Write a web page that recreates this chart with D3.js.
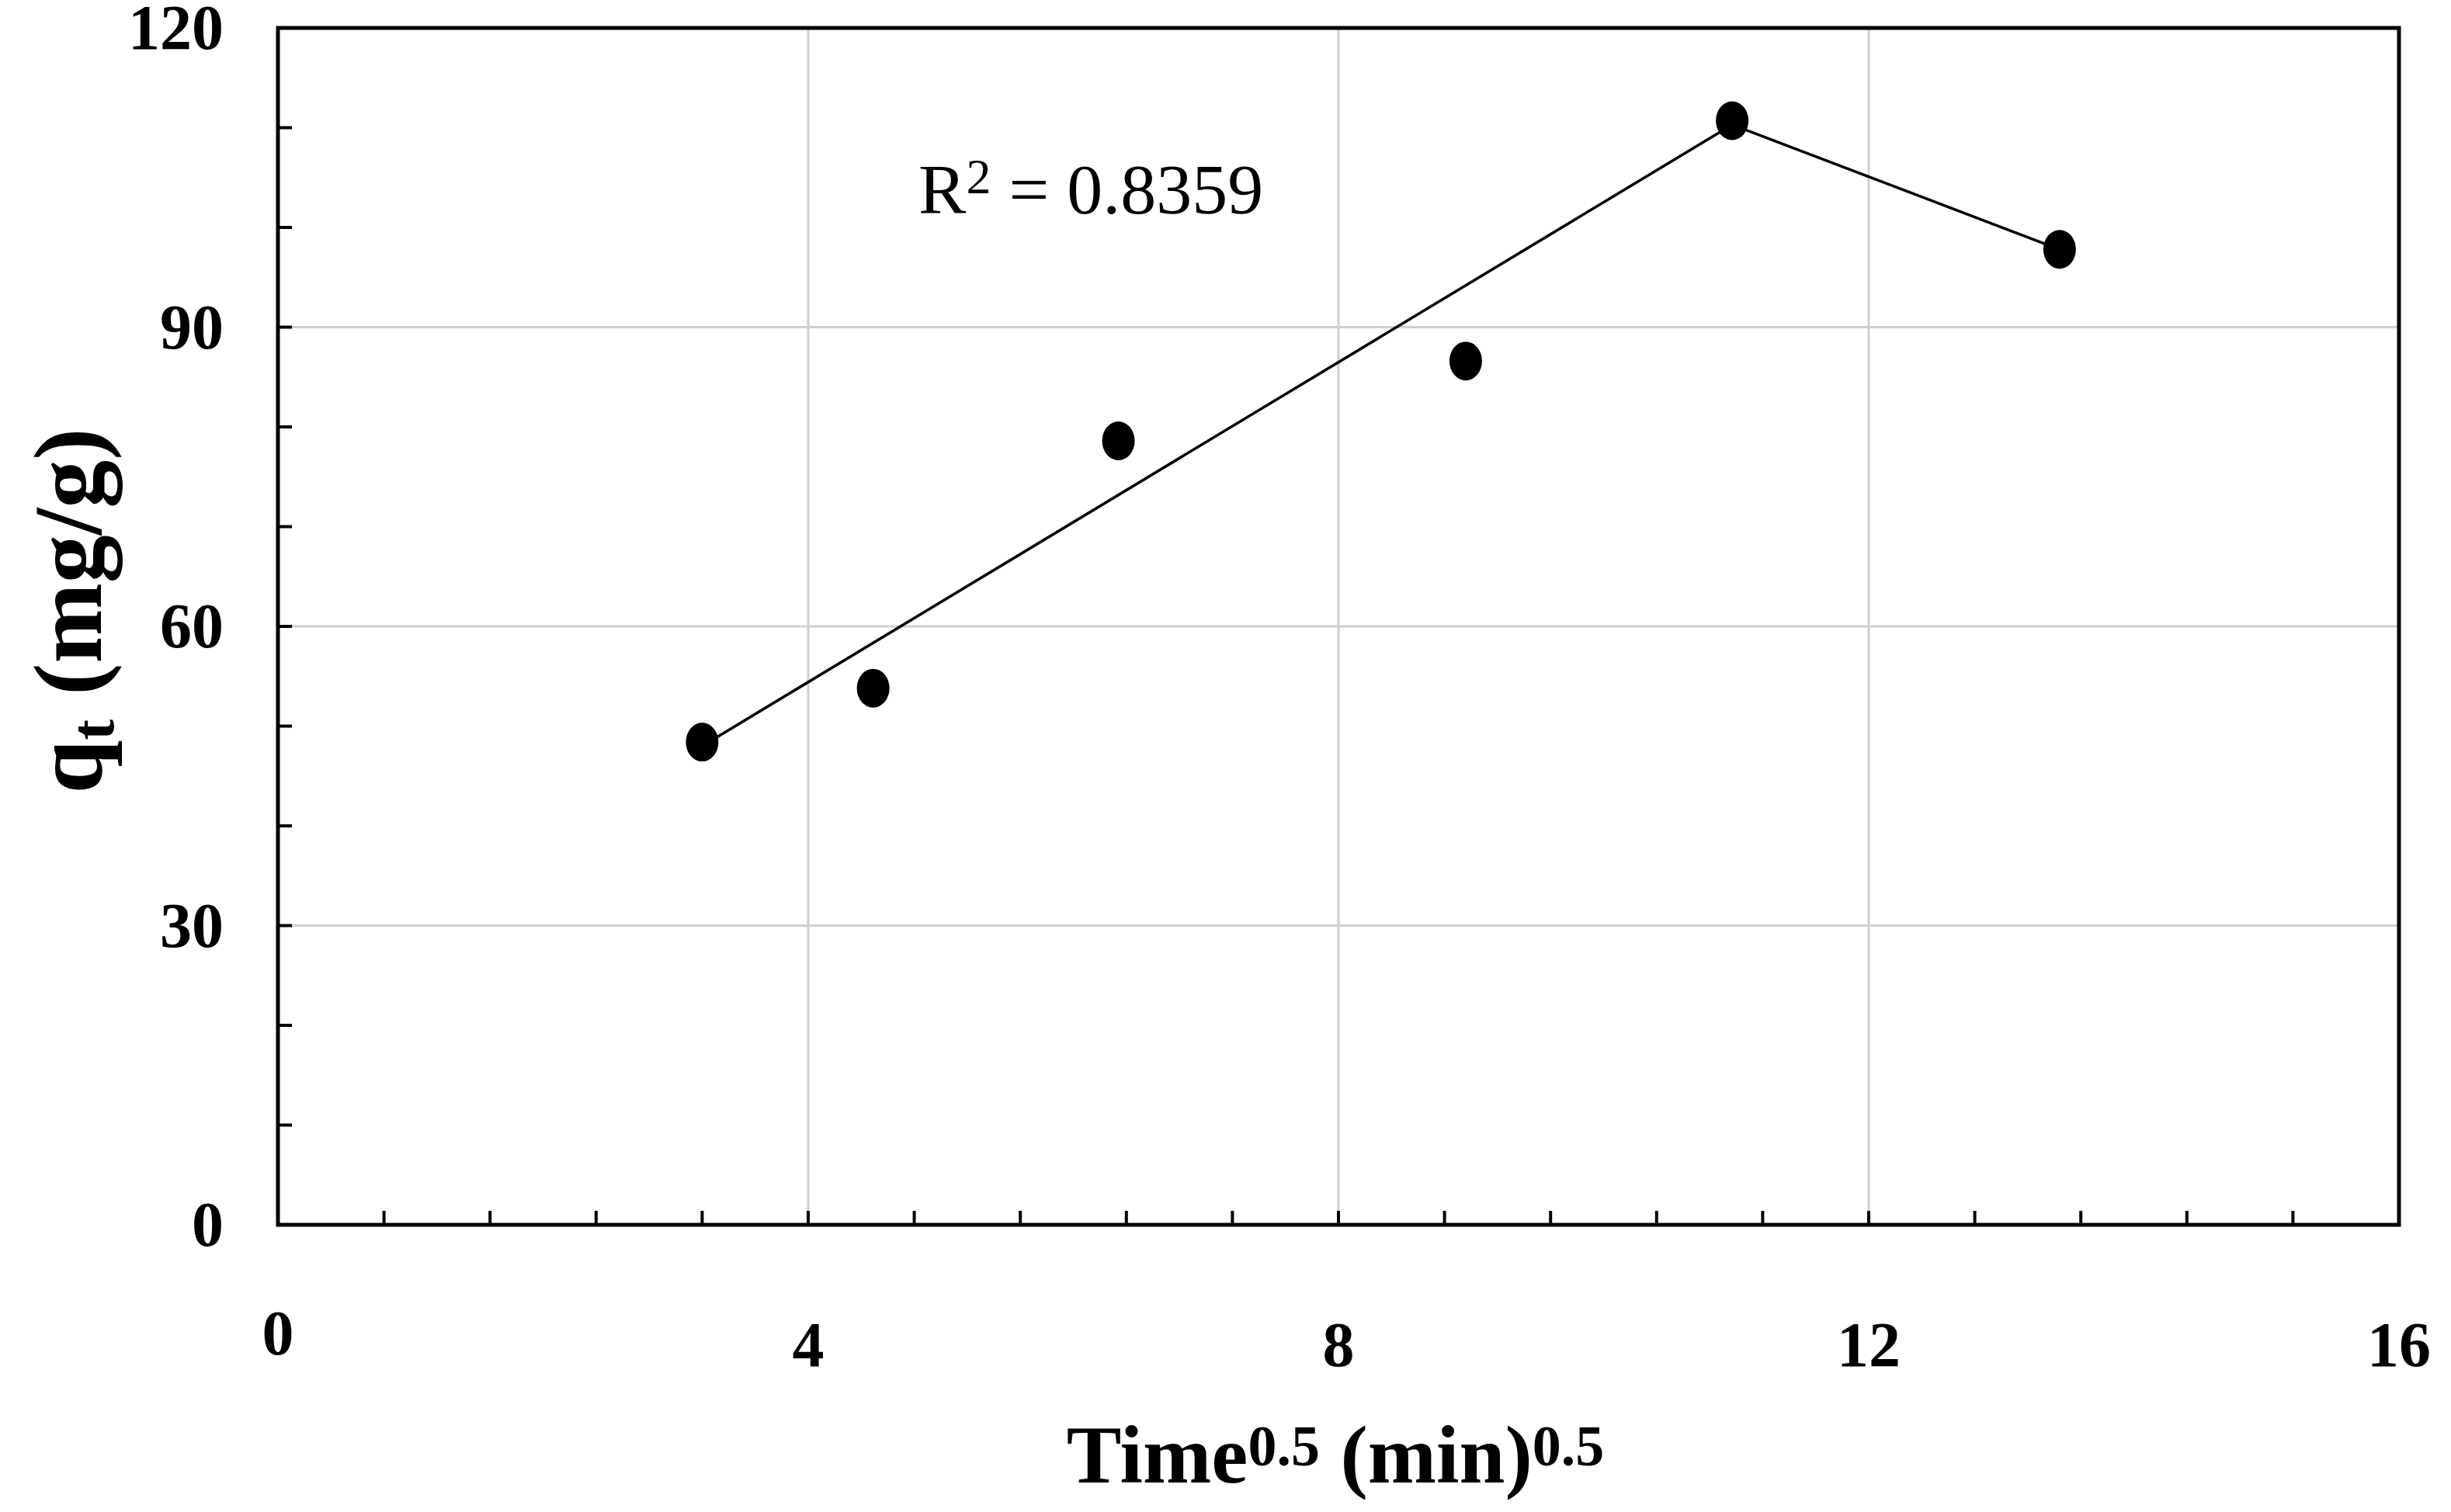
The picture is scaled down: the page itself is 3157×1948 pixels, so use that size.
<!DOCTYPE html>
<html><head><meta charset="utf-8">
<script src="https://cdn.jsdelivr.net/npm/d3@7"></script>
<style>body{margin:0;background:#fff}</style></head>
<body><svg id="c" width="3157" height="1948"></svg>
<script>
const xVals=[3.2,4.49,6.34,8.96,10.97,13.44];
const yVals=[48.4,53.8,78.6,86.6,110.7,97.8];
const fitX=[3.2,10.97,13.44];
const fitY=[48.0,110.3,97.8];
const xTicks=[0,4,8,12,16];
const yTicks=[0,30,60,90,120];
const svg=d3.select("#c");
const L=358,R=3090,T=36,B=1578;
const x=d3.scaleLinear().domain([0,16]).range([L,R]);
const y=d3.scaleLinear().domain([0,120]).range([B,T]);
const font="'Liberation Serif', 'DejaVu Serif', serif";
svg.append("g").selectAll("line").data([4,8,12]).join("line")
 .attr("x1",d=>x(d)).attr("x2",d=>x(d)).attr("y1",T).attr("y2",B).attr("stroke","#d0d0d0").attr("stroke-width",3);
svg.append("g").selectAll("line").data([30,60,90]).join("line")
 .attr("y1",d=>y(d)).attr("y2",d=>y(d)).attr("x1",L).attr("x2",R).attr("stroke","#d0d0d0").attr("stroke-width",3);
svg.append("g").selectAll("line").data(d3.range(1,20).map(i=>i*0.8)).join("line")
 .attr("x1",d=>x(d)).attr("x2",d=>x(d)).attr("y1",B).attr("y2",B-18).attr("stroke","#000").attr("stroke-width",4);
svg.append("g").selectAll("line").data(d3.range(1,12).map(i=>i*10)).join("line")
 .attr("y1",d=>y(d)).attr("y2",d=>y(d)).attr("x1",L).attr("x2",L+18).attr("stroke","#000").attr("stroke-width",4);
svg.append("rect").attr("x",L).attr("y",T).attr("width",R-L).attr("height",B-T).attr("fill","none").attr("stroke","#000").attr("stroke-width",5);
svg.append("g").selectAll("text").data(xTicks).join("text")
 .attr("x",d=>x(d)).attr("y",d=>d===0?1745:1760).attr("text-anchor","middle")
 .attr("font-family",font).attr("font-weight","bold").attr("font-size",82).text(d=>d);
svg.append("g").selectAll("text").data(yTicks).join("text")
 .attr("x",L-70).attr("y",d=>y(d)+27).attr("text-anchor","end")
 .attr("font-family",font).attr("font-weight","bold").attr("font-size",82).text(d=>d);
svg.append("path").datum(fitX.map((d,i)=>[d,fitY[i]]))
 .attr("d",d3.line().x(d=>x(d[0])).y(d=>y(d[1]))).attr("fill","none").attr("stroke","#000").attr("stroke-width",3.5);
svg.append("g").selectAll("ellipse").data(xVals.map((d,i)=>[d,yVals[i]])).join("ellipse")
 .attr("cx",d=>x(d[0])).attr("cy",d=>y(d[1])).attr("rx",21).attr("ry",25).attr("fill","#000");
const r=svg.append("text").attr("x",1183).attr("y",275).attr("font-family",font).attr("font-size",92);
r.append("tspan").text("R");r.append("tspan").attr("font-size",64).attr("dy",-26).text("2");
r.append("tspan").attr("dy",26).text(" = 0.8359");
const xt=svg.append("text").attr("x",1720).attr("y",1910).attr("text-anchor","middle").attr("font-family",font).attr("font-weight","bold").attr("font-size",106);
xt.append("tspan").text("Time");xt.append("tspan").attr("font-size",74).attr("dy",-22).text("0.5");
xt.append("tspan").attr("dy",22).text(" (min)");xt.append("tspan").attr("font-size",74).attr("dy",-22).text("0.5");
const yt=svg.append("text").attr("transform","translate(130,"+(y(60)-20)+") rotate(-90)").attr("text-anchor","middle").attr("font-family",font).attr("font-weight","bold").attr("font-size",124);
yt.append("tspan").text("q");yt.append("tspan").attr("font-size",80).attr("dy",16).text("t");
yt.append("tspan").attr("dy",-16).text(" (mg/g)");
</script></body></html>
